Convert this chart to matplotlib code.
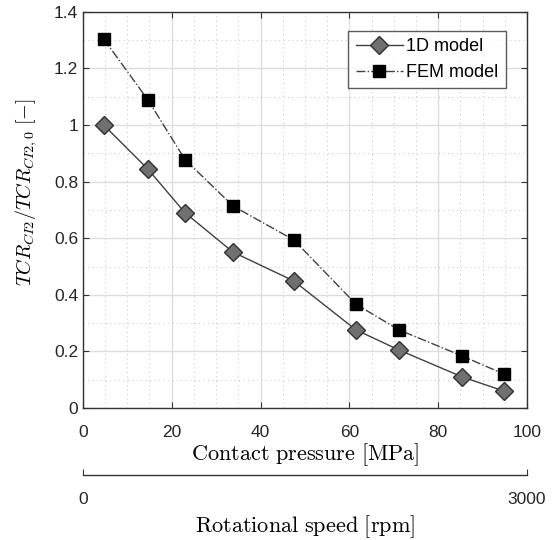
import matplotlib
matplotlib.use("Agg")
import matplotlib.pyplot as plt
from matplotlib.ticker import MultipleLocator

plt.rcParams['font.family'] = ['Liberation Sans', 'DejaVu Sans']
plt.rcParams['mathtext.fontset'] = 'cm'

pressure = [4.7, 14.6, 23.0, 33.8, 47.5, 61.5, 71.2, 85.4, 94.8]
tcr_1d = [1.0, 0.845, 0.69, 0.551, 0.449, 0.276, 0.205, 0.11, 0.06]
tcr_fem = [1.304, 1.09, 0.878, 0.714, 0.594, 0.367, 0.276, 0.184, 0.12]
speed_ticks = [0, 3000]

fig = plt.figure(figsize=(5.6, 5.4), dpi=100)
ax = fig.add_axes([0.148, 0.2444, 0.793, 0.7336])

ax.plot(pressure, tcr_1d, '-', color='#404040', lw=1.0, marker='D', ms=9.5,
        mfc='#707070', mec='#303030', mew=1.0, label='1D model', zorder=3)
ax.plot(pressure, tcr_fem, '-.', color='#404040', lw=1.0, marker='s', ms=8.5,
        mfc='black', mec='black', label='FEM model', zorder=3)

ax.set_xlim(0, 100)
ax.set_ylim(0, 1.4)
ax.xaxis.set_major_locator(MultipleLocator(20))
ax.xaxis.set_minor_locator(MultipleLocator(5))
ax.yaxis.set_major_locator(MultipleLocator(0.2))
ax.yaxis.set_minor_locator(MultipleLocator(0.1))
ax.set_yticks([0, 0.2, 0.4, 0.6, 0.8, 1.0, 1.2, 1.4])
ax.set_yticklabels(['0', '0.2', '0.4', '0.6', '0.8', '1', '1.2', '1.4'])
ax.grid(True, which='major', color='#dddddd', lw=1.0, ls='-')
ax.grid(True, which='minor', color='#cccccc', lw=0.8, ls=(0, (1, 3)))
ax.set_axisbelow(True)
ax.tick_params(which='major', direction='in', length=4, top=True, right=True,
               labelsize=12.5, labelcolor='#262626', color='#333333')
ax.tick_params(which='minor', length=0)
for s in ax.spines.values():
    s.set_color('#333333')
    s.set_linewidth(1.0)
ax.tick_params(axis='x', pad=12)

ax.set_xlabel(r'$\mathrm{Contact\ pressure\ [MPa]}$', fontsize=16, labelpad=1)
ax.set_ylabel(r'$TCR_{CI2}/TCR_{CI2,0}\ [-]$', fontsize=14.5)
ax.yaxis.set_label_coords(-0.098, 0.545)

leg = ax.legend(loc='upper right', bbox_to_anchor=(0.952, 0.952), fontsize=13,
                frameon=True, fancybox=False, edgecolor='#333333',
                handlelength=2.6, borderpad=0.4, labelspacing=0.5,
                handletextpad=0.2, borderaxespad=0.0)
leg.get_frame().set_linewidth(1.0)

ax2 = fig.add_axes([0.148, 0.1204, 0.793, 0.0001])
ax2.set_xlim(0, 3000)
ax2.set_yticks([])
for side in ['top', 'left', 'right']:
    ax2.spines[side].set_visible(False)
ax2.spines['bottom'].set_color('#333333')
ax2.spines['bottom'].set_linewidth(1.0)
ax2.set_xticks(speed_ticks)
ax2.set_xticklabels([str(v) for v in speed_ticks])
ax2.tick_params(axis='x', direction='in', length=4, pad=12, labelsize=12.5,
                labelcolor='#262626', color='#333333')
ax2.set_xlabel(r'$\mathrm{Rotational\ speed\ [rpm]}$', fontsize=16, labelpad=5)

fig.savefig('out.png', dpi=100)
